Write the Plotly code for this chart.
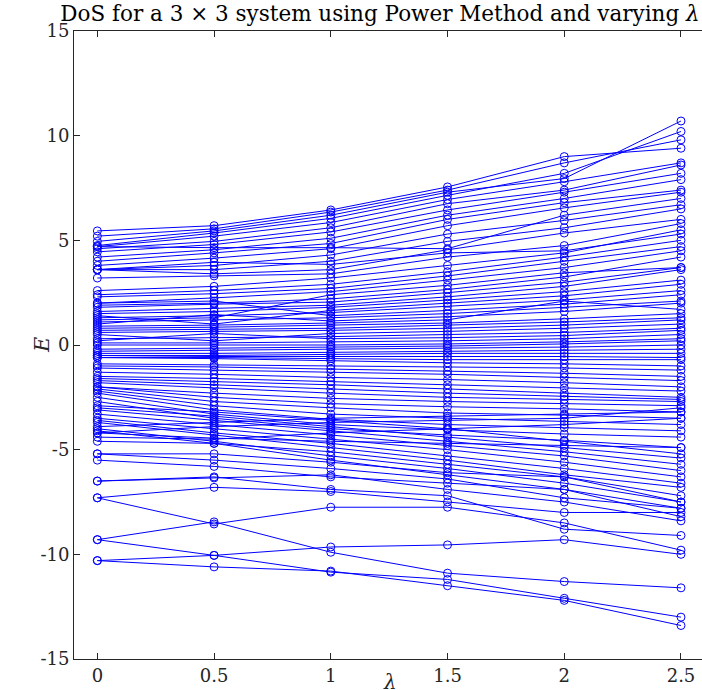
import plotly.graph_objects as go

lam = [0, 0.5, 1, 1.5, 2, 2.5]

E_top = [
    [5.45, 5.70, 6.45, 7.55, 9.00, 9.40],
    [5.20, 5.55, 6.35, 7.40, 8.70, 9.80],
    [4.95, 5.45, 6.20, 7.30, 7.95, 10.70],
    [4.75, 5.35, 6.05, 7.15, 8.20, 10.20],
    [4.70, 5.20, 5.85, 6.95, 7.80, 8.70],
    [4.60, 4.95, 5.60, 6.75, 7.40, 8.60],
    [4.45, 4.80, 5.40, 6.45, 7.30, 8.20],
    [4.20, 4.55, 5.10, 6.20, 7.00, 7.90],
    [4.00, 4.40, 4.85, 6.00, 6.80, 7.40],
    [3.80, 4.15, 4.60, 5.70, 6.55, 7.30],
    [4.70, 4.65, 4.65, 4.60, 6.20, 7.00],
    [3.60, 3.80, 4.30, 5.30, 5.95, 6.70],
    [3.60, 3.60, 4.00, 4.95, 5.60, 6.50],
    [3.60, 3.40, 3.60, 4.55, 5.35, 6.00],
    [3.20, 3.30, 3.40, 4.20, 4.75, 5.80],
    [3.60, 3.95, 3.85, 4.40, 4.50, 5.30],
]

E_mid = [
    [2.60, 2.80, 3.20, 3.80, 4.40, 5.50],
    [2.40, 2.60, 2.90, 3.50, 4.20, 5.00],
    [2.30, 2.45, 2.70, 3.30, 4.00, 4.70],
    [2.00, 2.25, 2.55, 3.10, 3.70, 4.50],
    [2.00, 2.10, 1.40, 1.65, 1.95, 2.40],
    [1.90, 2.00, 2.20, 2.65, 3.25, 4.20],
    [1.80, 1.95, 2.05, 2.50, 3.00, 3.70],
    [1.60, 1.75, 1.90, 2.30, 2.80, 3.60],
    [1.50, 1.60, 1.80, 2.15, 2.55, 3.10],
    [1.40, 1.00, 1.65, 2.00, 2.35, 2.90],
    [1.30, 1.40, 1.55, 1.85, 2.15, 2.60],
    [1.20, 1.30, 2.40, 2.85, 3.45, 3.70],
    [1.10, 1.20, 1.30, 1.50, 1.80, 2.10],
    [1.00, 1.45, 1.15, 1.35, 1.60, 2.00],
    [0.90, 0.95, 1.05, 1.20, 2.10, 1.70],
    [0.80, 0.85, 0.95, 1.05, 1.25, 1.50],
    [0.70, 0.75, 0.80, 0.95, 1.10, 1.30],
    [0.60, 0.65, 0.70, 0.80, 0.95, 1.20],
    [0.50, 0.20, 0.55, 0.65, 0.80, 1.00],
    [0.30, 0.35, 0.40, 0.50, 0.60, 0.80],
    [0.20, 0.55, 0.30, 0.35, 0.45, 0.70],
    [0.10, 0.10, 0.15, 0.20, 0.30, 0.50],
    [0.00, 0.00, 0.00, 0.05, 0.15, 0.30],
    [-0.20, -0.15, -0.10, -0.05, 0.05, 0.20],
    [-0.30, -0.25, -0.20, -0.15, -0.10, 0.00],
    [-0.40, -0.40, -0.35, -0.30, -0.25, -0.20],
    [-0.50, -0.50, -0.45, -0.40, -0.40, -0.40],
    [-0.50, -0.55, -0.55, -0.55, -0.55, -0.60],
    [-0.60, -0.60, -0.65, -0.70, -0.70, -0.70],
    [-0.60, -0.65, -0.75, -0.85, -0.90, -1.00],
]

E_low = [
    [-0.90, -0.95, -1.00, -1.05, -1.10, -1.20],
    [-1.00, -1.05, -1.15, -1.25, -1.35, -1.50],
    [-1.10, -1.20, -1.30, -1.40, -1.55, -1.70],
    [-1.30, -1.40, -1.55, -1.65, -1.80, -2.00],
    [-1.50, -1.60, -1.75, -1.90, -2.05, -2.20],
    [-1.60, -1.75, -1.90, -2.10, -2.30, -2.50],
    [-1.70, -1.90, -2.10, -2.30, -2.45, -2.60],
    [-1.80, -2.05, -2.30, -2.50, -2.60, -2.70],
    [-2.00, -2.30, -2.55, -2.70, -2.80, -2.90],
    [-2.00, -2.50, -2.80, -2.95, -3.05, -3.20],
    [-2.10, -2.70, -3.00, -3.25, -3.35, -3.50],
    [-2.20, -2.90, -3.30, -3.50, -3.65, -3.80],
    [-2.30, -3.10, -3.55, -3.80, -3.95, -4.10],
    [-2.50, -3.30, -3.80, -4.05, -4.25, -4.40],
    [-2.70, -3.50, -4.00, -4.30, -4.55, -4.90],
    [-2.90, -3.20, -3.60, -4.00, -4.60, -5.20],
    [-3.00, -3.40, -3.90, -4.40, -4.90, -5.40],
    [-3.10, -3.60, -4.10, -4.60, -5.10, -5.70],
    [-3.30, -3.80, -4.30, -4.80, -5.30, -6.00],
    [-3.50, -4.00, -4.50, -5.00, -5.60, -6.30],
    [-3.60, -4.20, -4.70, -5.30, -5.90, -6.60],
    [-3.70, -4.30, -4.90, -5.50, -6.20, -6.80],
    [-3.90, -3.70, -3.50, -3.40, -3.30, -3.20],
    [-4.00, -4.60, -5.30, -5.90, -6.60, -7.50],
    [-4.20, -3.90, -3.70, -3.60, -3.50, -3.00],
    [-4.20, -4.45, -4.60, -4.70, -4.80, -4.90],
    [-4.40, -4.50, -4.20, -4.00, -3.80, -3.50],
    [-4.60, -4.70, -5.10, -5.70, -6.30, -7.20],
    [-4.10, -4.70, -5.50, -6.20, -6.90, -7.80],
]

E_bot = [
    [-5.20, -5.20, -5.60, -6.10, -6.30, -7.50],
    [-5.20, -5.50, -5.90, -6.40, -7.30, -7.80],
    [-5.50, -5.80, -6.30, -6.60, -6.90, -8.20],
    [-6.50, -6.35, -6.20, -6.90, -7.50, -8.40],
    [-6.50, -6.30, -6.90, -7.20, -8.80, -9.10],
    [-7.30, -6.80, -7.00, -7.50, -8.00, -8.00],
    [-7.30, -8.55, -7.75, -7.75, -8.50, -9.80],
    [-9.30, -8.45, -9.90, -10.90, -11.30, -11.60],
    [-9.30, -10.05, -9.65, -9.55, -9.30, -10.00],
    [-10.30, -10.05, -10.85, -11.20, -12.10, -13.00],
    [-10.30, -10.60, -10.80, -11.50, -12.20, -13.40],
]

x_ticks = [0, 0.5, 1, 1.5, 2, 2.5]
x_ticktext = ["0", "0.5", "1", "1.5", "2", "2.5"]
y_ticks = [-15, -10, -5, 0, 5, 10, 15]
y_ticktext = ["-15", "-10", "-5", "0", "5", "10", "15"]

BLUE = "#0000ff"
AX = "#262626"
FONT = "DejaVu Serif"

xs, ys = [], []
for group in (E_top, E_mid, E_low, E_bot):
    for row in group:
        xs.extend(lam + [None])
        ys.extend(row + [None])

fig = go.Figure()
fig.add_trace(go.Scatter(
    x=xs, y=ys, mode="lines+markers",
    line=dict(color=BLUE, width=1),
    marker=dict(symbol="circle-open", size=8, color=BLUE, line=dict(width=1, color=BLUE)),
    connectgaps=False, showlegend=False, hoverinfo="skip",
))

fig.update_layout(
    width=702, height=690,
    margin=dict(l=74, r=0, t=31, b=31),
    plot_bgcolor="white", paper_bgcolor="white",
    font=dict(family=FONT, size=18, color=AX),
    title=dict(
        text="DoS for a 3 × 3 system using Power Method and varying <i>λ</i>",
        x=(380 - 74) / 628, xref="paper", xanchor="center",
        y=1 - 13 / 690, yref="container", yanchor="middle",
        font=dict(family=FONT, size=21.5, color="black"),
    ),
    xaxis=dict(
        range=[-0.1, 2.59], tickvals=x_ticks, ticktext=x_ticktext,
        showline=True, linecolor=AX, linewidth=1, mirror="ticks",
        ticks="inside", ticklen=6, tickcolor=AX, showgrid=False, zeroline=False,
        tickfont=dict(family=FONT, size=18, color=AX),
    ),
    yaxis=dict(
        range=[-15, 15], tickvals=y_ticks, ticktext=y_ticktext,
        showline=True, linecolor=AX, linewidth=1,
        ticks="inside", ticklen=6, tickcolor=AX, showgrid=False, zeroline=False,
        tickfont=dict(family=FONT, size=18, color=AX),
    ),
    yaxis2=dict(
        range=[-15, 15], tickvals=y_ticks, overlaying="y", side="right",
        showline=False, ticks="inside", ticklen=6, tickcolor=AX,
        showticklabels=False, showgrid=False, zeroline=False,
    ),
)

fig.add_annotation(
    text="<i>E</i>", xref="paper", yref="paper",
    x=(28 - 74) / 628, y=0.5, showarrow=False, textangle=-90,
    font=dict(family=FONT, size=21, color=AX),
)
fig.add_annotation(
    text="<i>λ</i>", xref="paper", yref="paper",
    x=(390 - 74) / 628, y=-(682 - 659) / 628, yanchor="middle", showarrow=False,
    font=dict(family=FONT, size=20, color=AX),
)

fig.write_html("out.html")
